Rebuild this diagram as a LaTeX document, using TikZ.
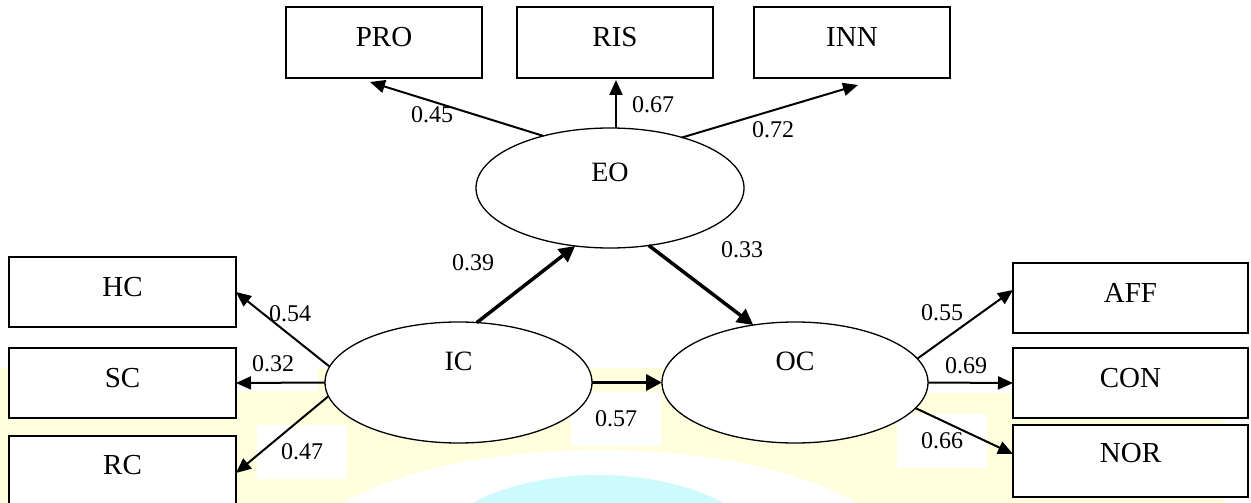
\documentclass[tikz,border=0pt]{standalone}
\usepackage{fontspec}
\setmainfont{Liberation Serif}
\usetikzlibrary{arrows.meta,calc,shapes.geometric}
\definecolor{bgyellow}{RGB}{255,255,222}
\definecolor{bgcyan}{RGB}{205,250,253}
\pgfdeclareradialshading{glowshade}{\pgfpoint{0bp}{0bp}}{color(0bp)=(white); color(25bp)=(white); color(50bp)=(bgyellow); color(71bp)=(bgyellow)}
\pgfdeclareradialshading{coreshade}{\pgfpoint{0bp}{0bp}}{color(0bp)=(bgcyan); color(32bp)=(bgcyan); color(50bp)=(white); color(71bp)=(white)}
\tikzset{
  varbox/.style={draw, line width=1.5pt, fill=white, inner sep=0pt, outer sep=0pt,
    font=\fontsize{29pt}{34pt}\selectfont, text height=21pt, text depth=12.8pt},
  lowbox/.style={varbox, text depth=17.8pt},
  latent/.style={draw, ellipse, line width=1.3pt, fill=white, inner sep=0pt, outer sep=0pt,
    font=\fontsize{28pt}{33pt}\selectfont, text height=20pt},
  coef/.style={fill=white, inner sep=0pt, minimum width=90pt, minimum height=54pt,
    font=\fontsize{24pt}{28pt}\selectfont},
  thinarr/.style={line width=2pt, -{Triangle[length=15pt,width=13pt]}},
  thickarr/.style={line width=3.5pt, -{Triangle[length=16pt,width=16pt]}},
}
\begin{document}
\begin{tikzpicture}[x=1pt,y=-1pt]
\useasboundingbox (0,0) rectangle (1251,503);
\clip (0,0) rectangle (1251,503);
% watermark background
\fill[bgyellow] (0,368) rectangle (1224,503);
\shade[shading=glowshade] (600,560) ellipse [x radius=300, y radius=110];
\shade[shading=coreshade] (598,580) ellipse [x radius=185, y radius=105];
% coefficient labels
\node[coef] (l45) at (432,115) {0.45};
\node[coef] (l67) at (653,105) {0.67};
\node[coef] (l72) at (773,130) {0.72};
\node[coef] (l39) at (473,263) {0.39};
\node[coef] (l33) at (742,250) {0.33};
\node[coef] (l54) at (290,314) {0.54};
\node[coef] (l32) at (273,364) {0.32};
\node[coef] (l47) at (302,452) {0.47};
\node[coef] (l57) at (616,419) {0.57};
\node[coef] (l55) at (942,313) {0.55};
\node[coef] (l69) at (966,366) {0.69};
\node[coef] (l66) at (942,441) {0.66};
% indicator boxes
\node[varbox, minimum width=196pt, minimum height=71pt] (pro) at (384,42.5) {PRO};
\node[varbox, minimum width=196pt, minimum height=71pt] (ris) at (615,42.5) {RIS};
\node[varbox, minimum width=196pt, minimum height=71pt] (inn) at (852,42.5) {INN};
\node[varbox, minimum width=227pt, minimum height=70pt] (hc) at (122.5,292) {HC};
\node[varbox, minimum width=227pt, minimum height=70pt] (sc) at (122.5,383) {SC};
\node[lowbox, minimum width=227pt, minimum height=74pt] (rc) at (122.5,473) {RC};
\node[varbox, minimum width=235pt, minimum height=70pt] (aff) at (1130.5,298) {AFF};
\node[varbox, minimum width=235pt, minimum height=70pt] (con) at (1130.5,383) {CON};
\node[lowbox, minimum width=235pt, minimum height=72pt] (nor) at (1130.5,461) {NOR};
% latent variables
\node[latent, minimum width=268pt, minimum height=120pt, text depth=33.4pt] (eo) at (610,188) {EO};
\node[latent, minimum width=267pt, minimum height=121pt, text depth=43.4pt] (ic) at (458.5,382.5) {IC};
\node[latent, minimum width=266pt, minimum height=121pt, text depth=43.4pt] (oc) at (795,382.5) {OC};
% paths
\draw[thinarr] (eo.142.6) -- ($(pro.south)+(-14,4)$);
\coordinate (risin) at ($(ris.south)+(1,2)$);
\draw[thinarr] (eo.north -| risin) -- (risin);
\draw[thinarr] (eo.35.2) -- ($(inn.south)+(6,7)$);
\draw[thickarr] (ic.73) -- (eo.239.6);
\draw[thickarr] (eo.304.1) -- (oc.126.6);
\draw[thickarr] (ic.east) -- (oc.west);
\draw[thinarr] (ic.173.7) -- (hc.east);
\draw[thinarr] (ic.west) -- (sc.east);
\draw[thinarr] (ic.186.3) -- (rc.east);
\draw[thinarr] (oc.11.2) -- ($(aff.west)+(0,-8)$);
\draw[thinarr] (oc.east) -- (con.west);
\draw[thinarr] (oc.348.1) -- ($(nor.west)+(0,-7)$);
\end{tikzpicture}
\end{document}
